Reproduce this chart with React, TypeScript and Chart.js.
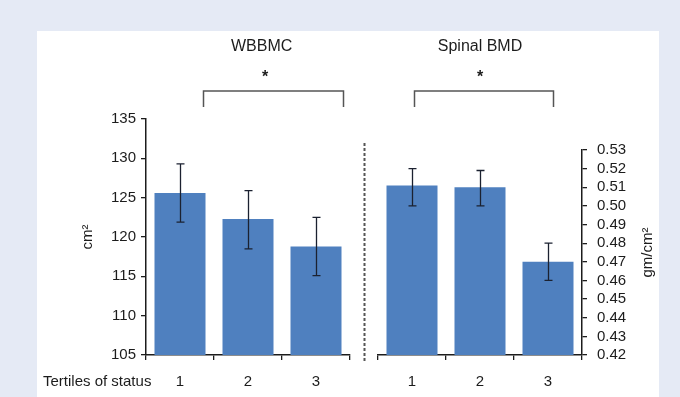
import React, { useEffect, useRef } from 'react';
import { Chart, registerables } from 'chart.js';

Chart.register(...registerables);

// ---------- data ----------
const categories = ['1', '2', '3'];
const wbbmcValues = [125.6, 122.3, 118.8];
const wbbmcLow = [121.9, 118.5, 115.1];
const wbbmcHigh = [129.3, 125.9, 122.5];
const spinalValues = [0.511, 0.51, 0.47];
const spinalLow = [0.5, 0.5, 0.46];
const spinalHigh = [0.52, 0.519, 0.48];
const leftTicks = [105, 110, 115, 120, 125, 130, 135];
const rightTicks = [0.42, 0.43, 0.44, 0.45, 0.46, 0.47, 0.48, 0.49, 0.5, 0.51, 0.52, 0.53];
const leftTitle = 'WBBMC';
const rightTitle = 'Spinal BMD';
const leftUnit = 'cm²';
const rightUnit = 'gm/cm²';
const xLabelText = 'Tertiles of status';
const sigMark = '*';

// ---------- style ----------
const FONT = "'Liberation Sans', Arial, Helvetica, sans-serif";
const BAR = '#4f80bf';
const INK = '#1c1c1c';
const ERR = '#1b2130';
const BRACKET = '#555555';

type Ann = {
  title: string;
  titleIdx: number;
  starIdx: number;
  fromIdx: number;
  toIdx: number;
  low: number[];
  high: number[];
  sideUnit?: { text: string; x: number };
};

function extrasPlugin(a: Ann) {
  return {
    id: 'extras',
    afterDatasetsDraw(chart: any) {
      const ctx = chart.ctx;
      const x = chart.scales.x;
      const y = chart.scales.y;
      ctx.save();
      // error bars
      ctx.strokeStyle = ERR;
      ctx.lineWidth = 1.3;
      a.low.forEach((lo, i) => {
        const cx = Math.round(x.getPixelForValue(i)) + 0.5;
        const yl = y.getPixelForValue(lo);
        const yh = y.getPixelForValue(a.high[i]);
        ctx.beginPath();
        ctx.moveTo(cx, yl);
        ctx.lineTo(cx, yh);
        ctx.moveTo(cx - 4, yl);
        ctx.lineTo(cx + 4, yl);
        ctx.moveTo(cx - 4, yh);
        ctx.lineTo(cx + 4, yh);
        ctx.stroke();
      });
      // title, asterisk, bracket
      ctx.fillStyle = INK;
      ctx.textAlign = 'center';
      ctx.textBaseline = 'middle';
      ctx.font = `16px ${FONT}`;
      ctx.fillText(a.title, x.getPixelForValue(a.titleIdx), 16);
      ctx.font = `bold 16px ${FONT}`;
      ctx.fillText(sigMark, x.getPixelForValue(a.starIdx), 47);
      const bx1 = Math.round(x.getPixelForValue(a.fromIdx)) + 0.5;
      const bx2 = Math.round(x.getPixelForValue(a.toIdx)) + 0.5;
      ctx.strokeStyle = BRACKET;
      ctx.lineWidth = 1.5;
      ctx.beginPath();
      ctx.moveTo(bx1, 76);
      ctx.lineTo(bx1, 60);
      ctx.lineTo(bx2, 60);
      ctx.lineTo(bx2, 76);
      ctx.stroke();
      // unit title read bottom-to-top on the right axis
      if (a.sideUnit) {
        ctx.save();
        ctx.translate(a.sideUnit.x, (y.top + y.bottom) / 2);
        ctx.rotate(-Math.PI / 2);
        ctx.font = `15px ${FONT}`;
        ctx.fillStyle = INK;
        ctx.textAlign = 'center';
        ctx.textBaseline = 'middle';
        ctx.fillText(a.sideUnit.text, 0, 0);
        ctx.restore();
      }
      ctx.restore();
    },
  };
}

function axisGrid() {
  return {
    display: true,
    drawOnChartArea: false,
    drawTicks: true,
    tickLength: 5,
    color: INK,
    lineWidth: 1.3,
  };
}

function makeConfig(
  values: number[],
  ticks: number[],
  ann: Ann,
  opts: {
    side: 'left' | 'right';
    padTop: number;
    padLeft: number;
    padRight: number;
    axisWidth: number;
    xHeight: number;
    unit: string | null;
    unitPad: number;
    tickPad: number;
    fmt: (v: number) => string;
  }
) {
  return {
    type: 'bar' as const,
    data: {
      labels: categories,
      datasets: [
        {
          data: values,
          backgroundColor: BAR,
          borderWidth: 0,
          categoryPercentage: 1,
          barPercentage: 0.75,
        },
      ],
    },
    options: {
      animation: false as const,
      responsive: false,
      layout: { padding: { top: opts.padTop, left: opts.padLeft, right: opts.padRight, bottom: 0 } },
      plugins: {
        legend: { display: false },
        tooltip: { enabled: false },
        title: { display: false },
      },
      scales: {
        x: {
          grid: { ...axisGrid(), offset: true },
          border: { display: true, color: INK, width: 1.5 },
          ticks: { color: INK, font: { family: FONT, size: 15 }, padding: 13, maxRotation: 0, autoSkip: false },
          afterFit: (s: any) => {
            s.height = opts.xHeight;
          },
        },
        y: {
          position: opts.side,
          min: ticks[0],
          max: ticks[ticks.length - 1],
          afterBuildTicks: (s: any) => {
            s.ticks = ticks.map((v) => ({ value: v }));
          },
          grid: axisGrid(),
          border: { display: true, color: INK, width: 1.5 },
          ticks: {
            color: INK,
            font: { family: FONT, size: 15 },
            padding: opts.tickPad,
            autoSkip: false,
            callback: (v: any) => opts.fmt(Number(v)),
          },
          title: {
            display: !!opts.unit,
            text: opts.unit || '',
            color: INK,
            font: { family: FONT, size: 15 },
            padding: { top: opts.unitPad, bottom: 0 },
          },
          afterFit: (s: any) => {
            s.width = opts.axisWidth;
          },
        },
      },
    },
    plugins: [extrasPlugin(ann)],
  };
}

function ChartCanvas({ left, top, width, height, make }: any) {
  const ref = useRef<HTMLCanvasElement>(null);
  useEffect(() => {
    const chart = new Chart(ref.current as HTMLCanvasElement, make() as any);
    return () => chart.destroy();
  }, []);
  return (
    <canvas
      ref={ref}
      width={width}
      height={height}
      style={{ position: 'absolute', left, top, width, height }}
    />
  );
}

export default function App() {
  const leftCfg = () =>
    makeConfig(
      wbbmcValues,
      leftTicks,
      {
        title: leftTitle,
        titleIdx: 1.2,
        starIdx: 1.25,
        fromIdx: 0.34,
        toIdx: 2.4,
        low: wbbmcLow,
        high: wbbmcHigh,
      },
      {
        side: 'left',
        padTop: 88,
        padLeft: 0,
        padRight: 15,
        axisWidth: 109,
        xHeight: 42,
        unit: leftUnit,
        unitPad: 42,
        tickPad: 5,
        fmt: (v) => String(Math.round(v)),
      }
    );
  const rightCfg = () =>
    makeConfig(
      spinalValues,
      rightTicks,
      {
        title: rightTitle,
        titleIdx: 1.0,
        starIdx: 1.0,
        fromIdx: 0.03,
        toIdx: 2.07,
        low: spinalLow,
        high: spinalHigh,
        sideUnit: { text: rightUnit, x: 283 },
      },
      {
        side: 'right',
        padTop: 119,
        padLeft: 13,
        padRight: 0,
        axisWidth: 77,
        xHeight: 42,
        unit: null,
        unitPad: 2,
        tickPad: 10,
        fmt: (v) => v.toFixed(2),
      }
    );

  return (
    <div
      style={{
        position: 'fixed',
        left: 0,
        top: 0,
        width: 680,
        height: 397,
        background: '#e5eaf5',
        overflow: 'hidden',
        fontFamily: FONT,
      }}
    >
      <div
        style={{ position: 'absolute', left: 37, top: 31, width: 622, height: 366, background: '#ffffff' }}
      />
      <ChartCanvas left={37} top={31} width={328} height={366} make={leftCfg} />
      <ChartCanvas left={365} top={31} width={294} height={366} make={rightCfg} />
      <svg style={{ position: 'absolute', left: 0, top: 0 }} width={680} height={397}>
        <line x1={364.5} y1={143} x2={364.5} y2={362} stroke="#555" strokeWidth={2} strokeDasharray="3 2" />
      </svg>
      <div
        style={{
          position: 'absolute',
          left: 43,
          top: 372,
          fontSize: 15,
          lineHeight: '18px',
          color: INK,
          whiteSpace: 'nowrap',
        }}
      >
        {xLabelText}
      </div>
    </div>
  );
}
